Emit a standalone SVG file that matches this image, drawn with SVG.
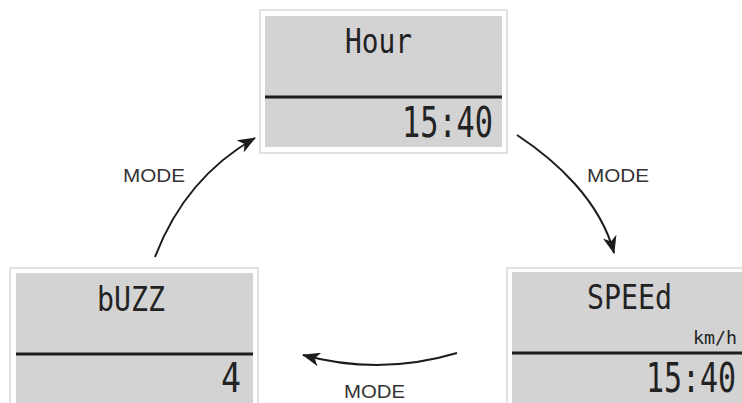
<svg xmlns="http://www.w3.org/2000/svg" width="742" height="403" viewBox="0 0 742 403">
<style>
.frame{fill:#ffffff;stroke:#d9d9d9;stroke-width:1.5}
.lcd{fill:#d3d3d3}
.div{stroke:#1c1c1c;stroke-width:3}
.seg{font-family:"DejaVu Sans Mono",monospace;fill:#222;}
.lbl{font-family:"Liberation Sans",sans-serif;font-size:18px;fill:#333}
.conn{fill:none;stroke:#1c1c1c;stroke-width:2}
</style>
<defs>
<marker id="ah" viewBox="0 0 18 14" markerWidth="18" markerHeight="14" refX="17" refY="7" orient="auto" markerUnits="userSpaceOnUse">
<path d="M0,0 L18,7 L0,14 L5,7 z" fill="#1c1c1c"/>
</marker>
</defs>
<rect width="742" height="403" fill="#ffffff"/>
<g id="node-hour">
<rect class="frame" x="260" y="10" width="247" height="143"/>
<rect class="lcd" x="265" y="16" width="237" height="131"/>
<line class="div" x1="265" y1="97" x2="502" y2="97"/>
<text class="seg" x="345" y="53" font-size="33" textLength="67" lengthAdjust="spacingAndGlyphs">Hour</text>
<text class="seg" x="402" y="137" font-size="42" textLength="91" lengthAdjust="spacingAndGlyphs">15:40</text>
</g>
<g id="node-buzz">
<rect class="frame" x="10" y="268" width="248" height="140"/>
<rect class="lcd" x="16" y="273" width="237" height="135"/>
<line class="div" x1="16" y1="354" x2="253" y2="354"/>
<text class="seg" x="97" y="311" font-size="34" textLength="68" lengthAdjust="spacingAndGlyphs">bUZZ</text>
<text class="seg" x="221" y="392" font-size="41" textLength="20" lengthAdjust="spacingAndGlyphs">4</text>
</g>
<g id="node-speed">
<rect class="frame" x="507" y="268" width="245" height="140"/>
<rect class="lcd" x="512" y="272" width="240" height="136"/>
<line class="div" x1="512" y1="353" x2="742" y2="353"/>
<text class="seg" x="587" y="309" font-size="33" textLength="85" lengthAdjust="spacingAndGlyphs">SPEEd</text>
<text class="seg" x="693" y="344" font-size="18" textLength="44" lengthAdjust="spacingAndGlyphs">km/h</text>
<text class="seg" transform="translate(646,392) scale(0.73,1)" x="0" y="0" font-size="41">15:40</text>
</g>
<g id="connectors">
<path class="conn" d="M155,257 Q185,178 255,138" marker-end="url(#ah)"/>
<path class="conn" d="M517,135 C555,160 600,200 614,253" marker-end="url(#ah)"/>
<path class="conn" d="M457,353 Q380,376 303,355" marker-end="url(#ah)"/>
<text class="lbl" x="123" y="182" textLength="62" lengthAdjust="spacingAndGlyphs">MODE</text>
<text class="lbl" x="587" y="182" textLength="62" lengthAdjust="spacingAndGlyphs">MODE</text>
<text class="lbl" x="344" y="398" textLength="61" lengthAdjust="spacingAndGlyphs">MODE</text>
</g>
</svg>
